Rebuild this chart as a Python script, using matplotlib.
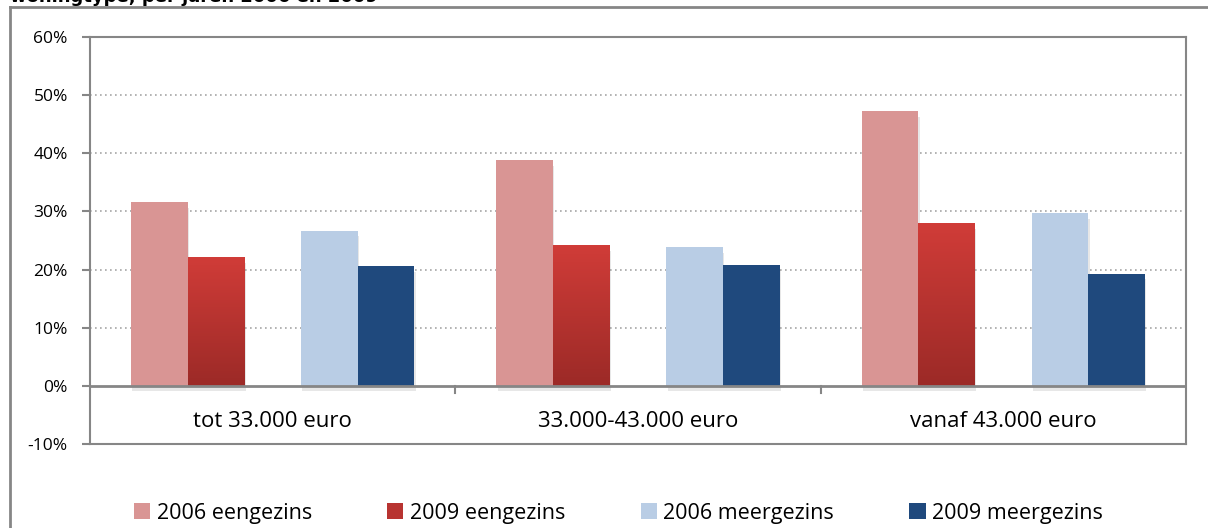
import matplotlib as mpl
mpl.use('Agg')
import matplotlib.pyplot as plt
import numpy as np
from matplotlib import patheffects as pe
from matplotlib.colors import LinearSegmentedColormap
from matplotlib.lines import Line2D
from matplotlib.patches import Patch

categories = ['tot 33.000 euro', '33.000-43.000 euro', 'vanaf 43.000 euro']
series_names = ['2006 eengezins', '2009 eengezins', '2006 meergezins', '2009 meergezins']
eengezins_2006 = [31.6, 38.8, 47.2]
eengezins_2009 = [22.1, 24.1, 27.9]
meergezins_2006 = [26.7, 23.8, 29.7]
meergezins_2009 = [20.6, 20.8, 19.3]
yticks = [-10, 0, 10, 20, 30, 40, 50, 60]
title = 'woningtype, per jaren 2006 en 2009'

series = [eengezins_2006, eengezins_2009, meergezins_2006, meergezins_2009]
colors = ['#D99594', '#B83431', '#B9CDE5', '#1F497D']
offsets = [-0.31, -0.155, 0.155, 0.31]
bar_w = 0.155
grey = '#868686'

mpl.rcParams['font.family'] = ['Open Sans', 'DejaVu Sans']

fig = plt.figure(figsize=(12.08, 5.28), dpi=100)
ax = fig.add_axes([90/1208, 1-444/528, (1186-90)/1208, (444-37)/528])

x = np.arange(len(categories))
red_cmap = LinearSegmentedColormap.from_list('rd', ['#9C2A27', '#D03C38'])
# zachte schaduw onder de staven
shadow = [pe.SimplePatchShadow(offset=(1, -4), shadow_rgbFace='#7F7F7F', alpha=0.18), pe.Normal()]

for i, vals in enumerate(series):
    bars = ax.bar(x + offsets[i], vals, bar_w, color=colors[i], zorder=3, linewidth=0)
    for b in bars:
        b.set_path_effects(shadow)
        if i == 1:
            grad = np.linspace(0, 1, 100).reshape(-1, 1)
            ax.imshow(grad, extent=[b.get_x(), b.get_x() + b.get_width(), 0, b.get_height()],
                      origin='lower', cmap=red_cmap, aspect='auto', zorder=4)

ax.set_xlim(-0.5, 2.5)
ax.set_ylim(-10, 60)
ax.set_yticks(yticks)
ax.set_yticklabels([f'{t}%' for t in yticks], fontsize=12.5)
ax.set_xticks([])
ax.tick_params(axis='y', length=6, width=1.5, color=grey, pad=10)
for t in [10, 20, 30, 40, 50]:
    ax.axhline(t, color='#A6A6A6', lw=1.2, ls=(0, (1, 2)), zorder=1)
ax.axhline(0, color=grey, lw=2, zorder=5)
for s in [0.5, 1.5]:
    ax.plot([s, s], [0, -1.2], color=grey, lw=1.5, zorder=5, clip_on=False)
for sp in ax.spines.values():
    sp.set_color(grey)
    sp.set_linewidth(1.5)

for i, c in enumerate(categories):
    ax.text(i, -6.2, c, ha='center', va='center', fontsize=16)

# rand van de hele grafiek
fig.add_artist(Line2D([10/1208, 10/1208], [0, 1-7/528], color=grey, lw=2, transform=fig.transFigure))
fig.add_artist(Line2D([10/1208, 1], [1-7/528, 1-7/528], color=grey, lw=2, transform=fig.transFigure))

fig.text(10/1208, 1-2/528, title, fontsize=13, fontweight='bold', family='DejaVu Sans',
         ha='left', va='baseline')

handles = [Patch(facecolor=c, edgecolor='none') for c in colors]
fig.legend(handles, series_names, loc='center', bbox_to_anchor=(0.512, 1-513/528), ncol=4,
           frameon=False, fontsize=15.5, handlelength=0.75, handleheight=0.75, handletextpad=0.3,
           columnspacing=3.5)

plt.savefig('out.png', dpi=100)
